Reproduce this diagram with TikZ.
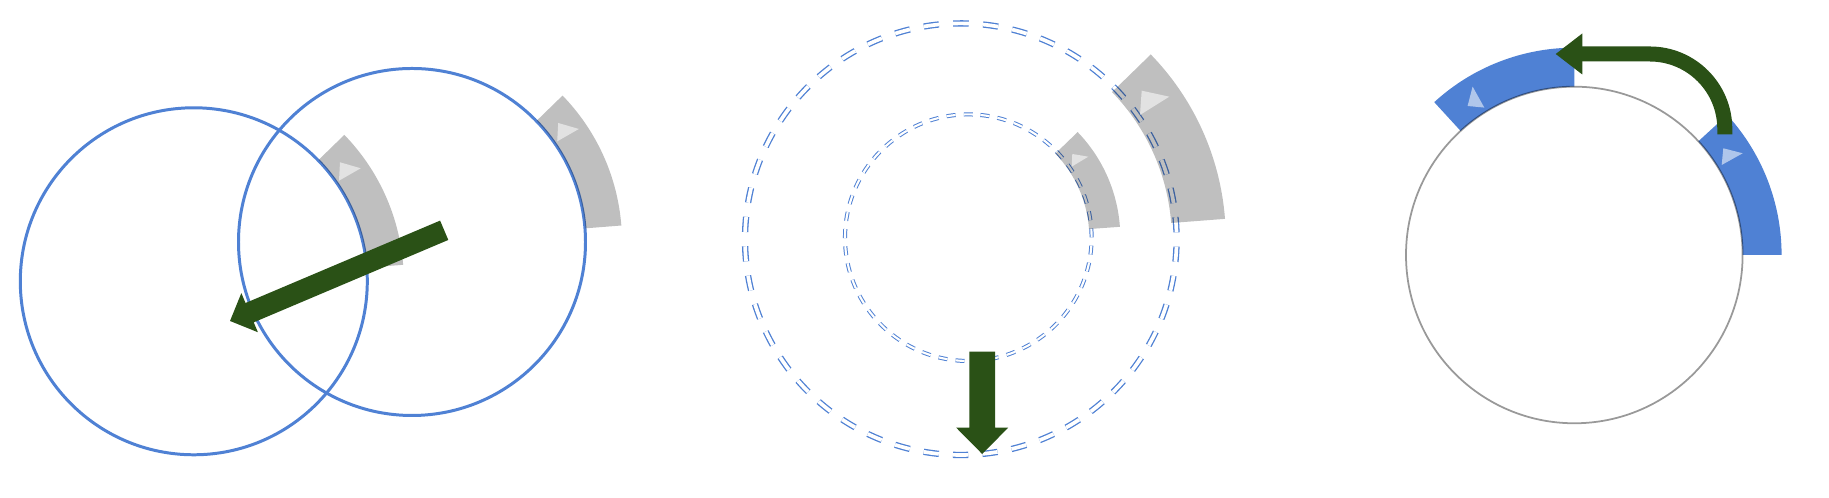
\documentclass[tikz,border=0pt]{standalone}
\usetikzlibrary{calc}
\definecolor{myblue}{RGB}{79,129,212}
\definecolor{mygreen}{RGB}{42,81,22}
\tikzset{
 ringline/.style={draw=myblue, line width=0.85pt},
 grayband/.style={fill=black, fill opacity=0.25},
 blueband/.style={fill=myblue},
 lighttri/.style={fill=white, fill opacity=0.55},
 arrowfill/.style={fill=mygreen},
 dashouter/.style={draw=myblue, line width=0.37pt, double=white, double distance=1.05pt, dash pattern=on 4.32pt off 4.06pt},
 dashinner/.style={draw=myblue, line width=0.28pt, double=white, double distance=0.6pt, dash pattern=on 2.56pt off 2.34pt},
 thincircle/.style={draw=black, draw opacity=0.4, line width=0.5pt},
}
% #1 style, #2 centre, #3 inner radius, #4 outer radius, #5 start angle, #6 end angle
\newcommand\myband[6]{\fill[#1, shift={#2}] (#5:#3) arc[start angle=#5, end angle=#6, radius=#3] -- (#6:#4) arc[start angle=#6, end angle=#5, radius=#4] -- cycle;}
% #1 centre, #2-#4 vertices relative to centre
\newcommand\mytri[4]{\fill[lighttri, shift={#1}] #2 -- #3 -- #4 -- cycle;}
% #1 tail, #2 angle, #3 length, #4 shaft half width, #5 head half width, #6 head length
\newcommand\myfatarrow[6]{\fill[arrowfill, shift={#1}, rotate=#2] (0,-#4) -- ({#3-#6},-#4) -- ({#3-#6},-#5) -- (#3,0) -- ({#3-#6},#5) -- ({#3-#6},#4) -- (0,#4) -- cycle;}
\begin{document}
\begin{tikzpicture}[x=0.01cm, y=0.01cm]
\useasboundingbox (0,0) rectangle (1829,498);
\fill[white] (0,0) rectangle (1829,498);

% ---------- Panel 1 ----------
\coordinate (c1) at (193.8,216.7);
\coordinate (c2) at (412,256);
\draw[ringline] (c1) circle[radius=173.5];
\draw[ringline] (c2) circle[radius=173.5];
\myband{grayband}{(c1)}{174}{210}{4.5}{44.2}
\myband{grayband}{(c2)}{174}{210}{4.5}{44.2}
\mytri{(c1)}{(146.2,119)}{(145.2,100.6)}{(166.9,113)}
\mytri{(c2)}{(146.2,119)}{(145.2,100.6)}{(166.9,113)}
\coordinate (t1) at (444.2,267.7);
\coordinate (p1) at (230,177);
\myfatarrow{(t1)}{202.95}{232.6}{10.5}{21.25}{21.3}

% ---------- Panel 2 ----------
\coordinate (o) at (960.8,258.8);
\coordinate (i) at (968.3,260.3);
\draw[dashouter] (o) ++(88:215.8) arc[start angle=88, delta angle=360, radius=215.8];
\draw[dashinner] (i) ++(87.9:123.3) arc[start angle=87.9, delta angle=360, radius=123.3];
\myband{grayband}{(o)}{211}{265}{4.4}{44.2}
\myband{grayband}{(i)}{121}{152}{4.1}{44}
\mytri{(o)}{(180.9,148.5)}{(179.2,124.2)}{(208.5,142.5)}
\mytri{(i)}{(104,83.7)}{(103.4,71)}{(120,81)}
\coordinate (t2) at (982.2,146.3);
\coordinate (p2) at (982.3,44);
\myfatarrow{(t2)}{-90}{102.3}{12.85}{26}{26.3}

% ---------- Panel 3 ----------
\coordinate (k) at (1574.3,243);
\myband{blueband}{(k)}{168.3}{207.3}{0}{42.5}
\myband{blueband}{(k)}{168.3}{207.3}{90}{132.5}
\draw[thincircle] (k) circle[radius=168.3];
\mytri{(k)}{(149,106.7)}{(147.4,90)}{(168.4,101.7)}
\mytri{(k)}{(-106.7,149)}{(-90,147.4)}{(-101.7,168.4)}
\coordinate (t3) at (1724.8,363.7);
\coordinate (p3) at (1555.7,444);
\draw[mygreen, line width=4.27pt] (t3) -- ++(0,5.3) arc[start angle=0, end angle=90, radius=75] -- (1580,444);
\fill[arrowfill] (1582.3,464.5) -- (p3) -- (1582.3,423.5) -- cycle;
\end{tikzpicture}
\end{document}
